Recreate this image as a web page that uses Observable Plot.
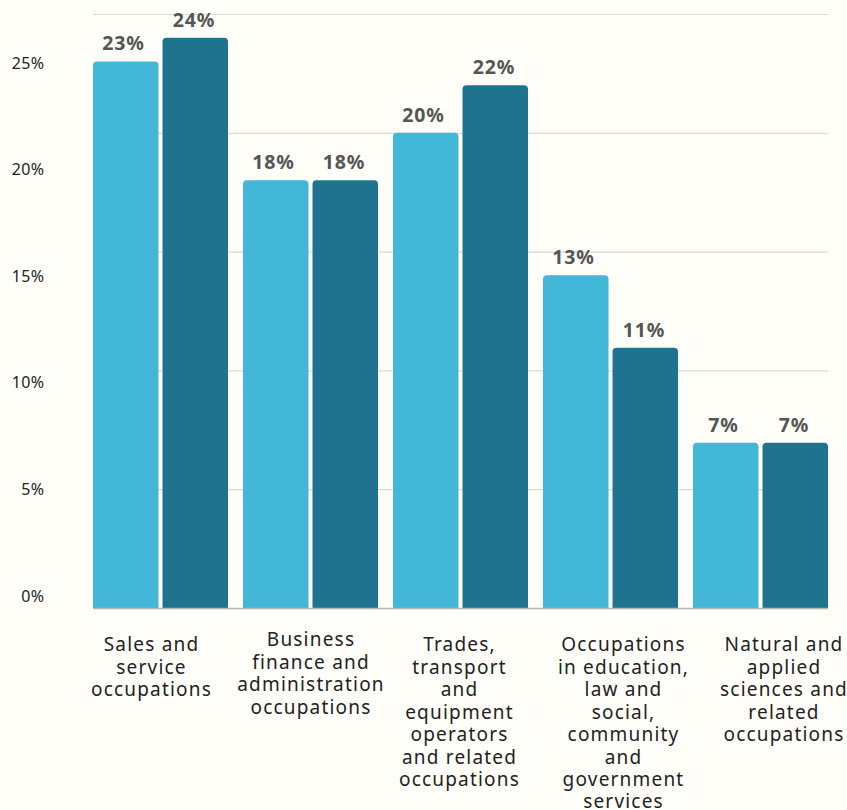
<!DOCTYPE html>
<html>
<head>
<meta charset="utf-8">
<script src="https://cdn.jsdelivr.net/npm/d3@7"></script>
<script src="https://cdn.jsdelivr.net/npm/@observablehq/plot@0.6"></script>
<style>
  html, body { margin: 0; padding: 0; background: #fffef9; }
  #chart svg { display: block; }
</style>
</head>
<body>
<div id="chart"></div>
<script>
// Categories (x axis), with the line breaks used in the reference
const categories = [
  "Sales and service occupations",
  "Business finance and administration occupations",
  "Trades, transport and equipment operators and related occupations",
  "Occupations in education, law and social, community and government services",
  "Natural and applied sciences and related occupations"
];
const categoryLabels = [
  "Sales and\nservice\noccupations",
  "Business\nfinance and\nadministration\noccupations",
  "Trades,\ntransport\nand\nequipment\noperators\nand related\noccupations",
  "Occupations\nin education,\nlaw and\nsocial,\ncommunity\nand\ngovernment\nservices",
  "Natural and\napplied\nsciences and\nrelated\noccupations"
];
// Series 1 (light blue) and series 2 (dark teal): bar heights in %
const series1Values = [23.0, 18.0, 20.0, 14.0, 6.95];
const series2Values = [24.0, 18.0, 22.0, 10.95, 6.95];
// Value labels shown above the bars
const series1Labels = ["23%", "18%", "20%", "13%", "7%"];
const series2Labels = ["24%", "18%", "22%", "11%", "7%"];
// Y axis ticks
const yTicks = [0, 5, 10, 15, 20, 25];

// Layout: small horizontal/vertical nudges of each category label, as in the reference
const labelNudgeX = [-9.5, 0, -1.5, 12.5, 23];
const labelNudgeY = [0, -5, 0, 0, 0];

const light = "#42b7d7";
const dark = "#1f738f";
const font = "Noto Sans, sans-serif";

const s1 = categories.map((c, i) => ({category: c, value: series1Values[i], label: series1Labels[i]}));
const s2 = categories.map((c, i) => ({category: c, value: series2Values[i], label: series2Labels[i]}));
const cats = categories.map((c, i) => ({category: c, label: categoryLabels[i]}));

const half = 69.5;

const chart = Plot.plot({
  width: 847,
  height: 810,
  marginTop: 14,
  marginBottom: 202,
  marginLeft: 93,
  marginRight: 19,
  style: {background: "#fffef9", fontFamily: font},
  x: {type: "band", domain: categories, paddingInner: 0.1, paddingOuter: 0, axis: null},
  y: {domain: [0, 25], axis: null},
  marks: [
    Plot.ruleY(yTicks.filter(d => d > 0), {stroke: "#d9d9d6", strokeWidth: 1.2}),
    Plot.barY(s1, {x: "category", y: "value", fill: light, insetRight: half, insetBottom: -6, rx: 4, clip: true}),
    Plot.barY(s2, {x: "category", y: "value", fill: dark, insetLeft: half, insetBottom: -6, rx: 4, clip: true}),
    Plot.ruleY([0], {stroke: "#b5b5b2", strokeWidth: 1.5}),
    Plot.text(s1, {x: "category", y: "value", text: "label", dx: -37.5, dy: -18, fill: "#555", fontSize: 19.5, fontWeight: "bold"}),
    Plot.text(s2, {x: "category", y: "value", text: "label", dx: 33, dy: -18, fill: "#555", fontSize: 19.5, fontWeight: "bold"}),
    Plot.text(yTicks, {frameAnchor: "left", y: d => 0.505 + d * 0.8974, text: d => d + "%", textAnchor: "end", dx: -49, fill: "#222", fontSize: 16}),
    ...cats.map((c, i) => Plot.text([c], {x: "category", frameAnchor: "bottom", text: "label", lineAnchor: "top", dx: labelNudgeX[i], dy: 27 + labelNudgeY[i], lineHeight: 1.18, fill: "#222", fontSize: 19}))
  ]
});
// widen letter spacing to approach the geometric typeface of the reference
const textGroups = chart.querySelectorAll('g[aria-label="text"]');
const spacing = ["0.8px", "0.8px", "0.4px"];
textGroups.forEach((g, i) => { g.style.letterSpacing = spacing[i] || "1.2px"; });
document.getElementById("chart").appendChild(chart);
</script>
</body>
</html>
